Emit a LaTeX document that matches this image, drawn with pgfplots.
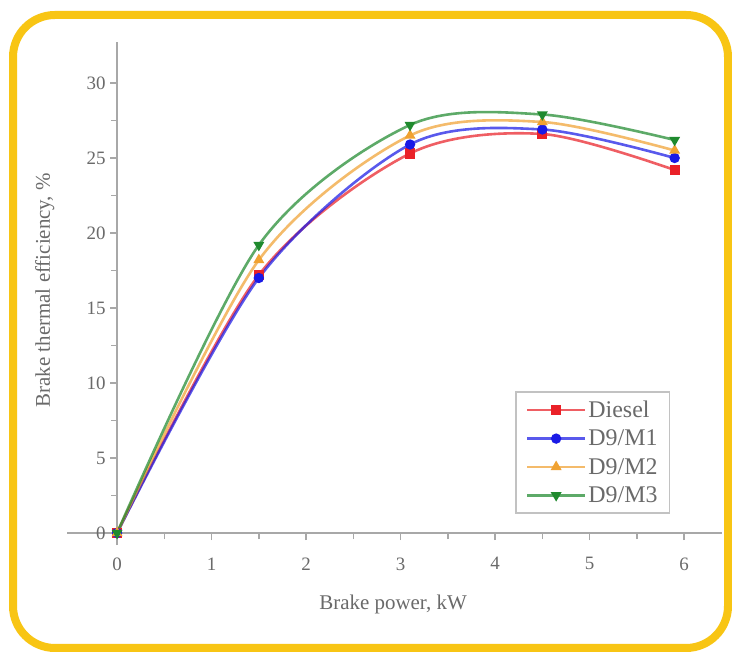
\documentclass[border=0pt]{standalone}
\usepackage{pgfplots}
\pgfplotsset{compat=1.18}
\usepackage{fontspec}
\setmainfont{Liberation Serif}
\definecolor{frameY}{HTML}{F8C514}
\definecolor{cRed}{HTML}{EA2128}
\definecolor{cBlue}{HTML}{1A1AE6}
\definecolor{cOrange}{HTML}{F0A232}
\definecolor{cGreen}{HTML}{1F8A2E}
\definecolor{txt}{HTML}{6A6A6A}
\definecolor{axc}{HTML}{A8A8A8}
\begin{document}
\begin{tikzpicture}
\useasboundingbox (0,0) rectangle (732bp,652bp);
\fill[white] (0,0) rectangle (732bp,652bp);
\draw[frameY, line width=8bp, rounded corners=42bp] (13bp,4bp) rectangle (728bp,637bp);
\begin{axis}[
  at={(67bp,107bp)}, anchor=south west,
  scale only axis, width=654.9bp, height=502.5bp,
  xmin=-0.53, xmax=6.4, ymin=-0.8, ymax=32.7,
  axis lines=middle,
  axis line style={draw=axc, line width=2bp, -},
  xtick={0,1,...,6}, ytick={0,5,...,30},
  minor x tick num=1, minor y tick num=1,
  tick align=outside,
  major tick length=7bp, minor tick length=6bp,
  tick style={draw=axc, line width=1.5bp},
  hide obscured x ticks=false, hide obscured y ticks=false,
  /pgf/number format/assume math mode=true,
  ticklabel style={font=\fontsize{19}{19}\selectfont, text=txt},
  xticklabel style={yshift=-14bp},
  yticklabel style={xshift=-1bp},
  xlabel={Brake power, kW}, ylabel={Brake thermal efficiency, \%},
  every axis x label/.style={at={(axis description cs:0.498,-0.119)}, anchor=center, font=\fontsize{21}{21}\selectfont, text=txt},
  every axis y label/.style={at={(axis description cs:-0.034,0.507)}, rotate=90, anchor=center, font=\fontsize{21}{21}\selectfont, text=txt},
  legend style={at={(0.684,0.3065)}, anchor=north west, draw=axc!70, line width=1.8bp,
    font=\fontsize{24}{24}\selectfont, text=txt, row sep=7bp, inner xsep=10bp, inner ysep=7bp},
  legend cell align=left,
  legend image code/.code={\draw[mark repeat=2,mark phase=2] plot coordinates {(0bp,0bp)(29bp,0bp)(58bp,0bp)};},
  every axis plot/.append style={line width=2.6bp, smooth, mark size=3.8bp, draw opacity=0.72},
]
\addplot[cRed, mark=square*, mark options={draw opacity=1}] coordinates {(0,0) (1.5,17.2) (3.1,25.3) (4.5,26.6) (5.9,24.2)};
\addlegendentry{Diesel}
\addplot[cBlue, mark=*, mark options={draw opacity=1}] coordinates {(0,0) (1.5,17.0) (3.1,25.9) (4.5,26.9) (5.9,25.0)};
\addlegendentry{D9/M1}
\addplot[cOrange, mark=triangle*, mark options={draw opacity=1}] coordinates {(0,0) (1.5,18.2) (3.1,26.5) (4.5,27.4) (5.9,25.5)};
\addlegendentry{D9/M2}
\addplot[cGreen, mark=triangle*, mark options={rotate=180, draw opacity=1}] coordinates {(0,0) (1.5,19.2) (3.1,27.2) (4.5,27.9) (5.9,26.2)};
\addlegendentry{D9/M3}
\end{axis}
\end{tikzpicture}
\end{document}
